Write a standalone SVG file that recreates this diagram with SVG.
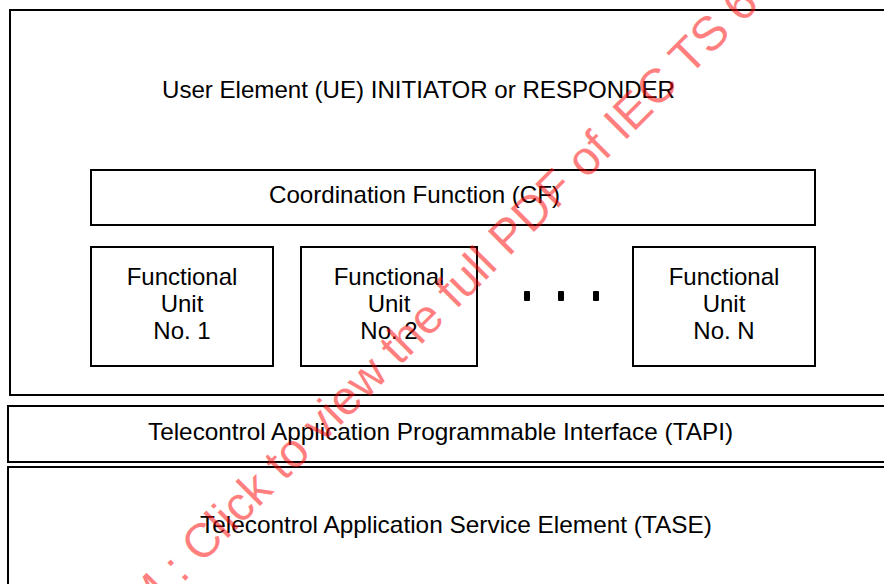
<svg xmlns="http://www.w3.org/2000/svg" width="884" height="584" viewBox="0 0 884 584">
<style>
.box{fill:none;stroke:#000;stroke-width:2}
.t{font-family:"Liberation Sans",Arial,sans-serif;font-size:24px;fill:#000}
.c{text-anchor:middle}
.dot{fill:#000}
.wm{font-family:"Liberation Sans",Arial,sans-serif;font-size:48px;fill:#ff0000;fill-opacity:0.5}
</style>
<rect width="884" height="584" fill="#fff"/>
<g id="ue">
<rect class="box" x="10" y="10" width="900" height="385"/>
<text class="t" x="162" y="98" textLength="513" lengthAdjust="spacingAndGlyphs">User Element (UE) INITIATOR or RESPONDER</text>
</g>
<g id="cf">
<rect class="box" x="91" y="170" width="724" height="55"/>
<text class="t" x="269" y="203" textLength="291" lengthAdjust="spacingAndGlyphs">Coordination Function (CF)</text>
</g>
<g id="fu1">
<rect class="box" x="91" y="247" width="182" height="119"/>
<text class="t c" x="182" y="285">Functional</text>
<text class="t c" x="182" y="312">Unit</text>
<text class="t c" x="182" y="339">No. 1</text>
</g>
<g id="fu2">
<rect class="box" x="301" y="247" width="176" height="119"/>
<text class="t c" x="389" y="285">Functional</text>
<text class="t c" x="389" y="312">Unit</text>
<text class="t c" x="389" y="339">No. 2</text>
</g>
<g id="dots">
<rect class="dot" x="524" y="291" width="6" height="10" rx="1"/>
<rect class="dot" x="558" y="291" width="6" height="10" rx="1"/>
<rect class="dot" x="593" y="291" width="6" height="10" rx="1"/>
</g>
<g id="fun">
<rect class="box" x="633" y="247" width="182" height="119"/>
<text class="t c" x="724" y="285">Functional</text>
<text class="t c" x="724" y="312">Unit</text>
<text class="t c" x="724" y="339">No. N</text>
</g>
<g id="tapi">
<rect class="box" x="8" y="406" width="900" height="56"/>
<text class="t" x="148" y="440" textLength="585" lengthAdjust="spacingAndGlyphs">Telecontrol Application Programmable Interface (TAPI)</text>
</g>
<g id="tase">
<rect class="box" x="8" y="467" width="900" height="140"/>
<text class="t" x="200" y="533" textLength="512" lengthAdjust="spacingAndGlyphs">Telecontrol Application Service Element (TASE)</text>
</g>
<g id="connectors"/>
<g id="watermark">
<text class="wm" transform="translate(187,579) rotate(-45)" x="-60" y="0">M : Click to view the full PDF of IEC TS 6</text>
</g>
</svg>
